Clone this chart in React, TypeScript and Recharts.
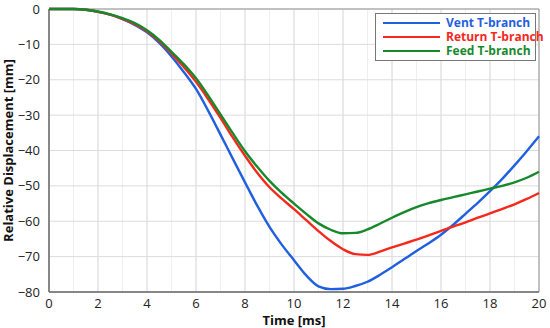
import React from "react";
import {
  CartesianGrid,
  Line,
  LineChart,
  ReferenceLine,
  XAxis,
  YAxis,
} from "recharts";

const TIME = [
  0, 0.5, 1, 1.5, 2, 2.5, 3, 3.5, 4, 4.5, 5, 5.5, 6, 6.5, 7, 7.5, 8, 8.5, 9, 9.5, 10,
  10.5, 11, 11.5, 12, 12.5, 13, 13.5, 14, 14.5, 15, 15.5, 16, 16.5, 17, 17.5, 18, 18.5, 19, 19.5, 20,
];

const VENT = [
  0, 0, 0, -0.2, -0.8, -1.6, -2.9, -4.5, -6.6, -9.6, -13.4, -17.8, -22.6, -28.8, -35.5, -42.3, -49, -55.6, -61.6, -66.6, -71,
  -75.3, -78.4, -79.2, -79.1, -78.3, -77.1, -75.2, -73, -70.7, -68.4, -66.2, -63.8, -61, -57.9, -54.8, -51.5, -48, -44.2, -40.2, -36,
];

const RETURN = [
  0, 0, 0, -0.2, -0.8, -1.6, -2.8, -4.3, -6.3, -9.1, -12.6, -16.4, -20.6, -25.5, -30.8, -36.3, -41.5, -46.3, -50.4, -53.6, -56.6,
  -59.7, -62.8, -65.6, -67.9, -69.3, -69.5, -68.6, -67.4, -66.3, -65.2, -64, -62.7, -61.5, -60.3, -59, -57.8, -56.5, -55.2, -53.7, -52,
];

const FEED = [
  0, 0, 0, -0.2, -0.7, -1.5, -2.6, -4, -6, -8.7, -12.1, -15.6, -19.6, -24.5, -29.8, -35.1, -40.2, -44.6, -48.6, -52, -55,
  -57.9, -60.6, -62.4, -63.4, -63.3, -62.3, -60.7, -59, -57.4, -56, -54.9, -54, -53.2, -52.4, -51.6, -50.8, -50, -49, -47.7, -46,
];

const SERIES = [
  { key: "vent", name: "Vent T-branch", color: "#1f5fe0" },
  { key: "ret", name: "Return T-branch", color: "#f5281c" },
  { key: "feed", name: "Feed T-branch", color: "#17892b" },
];

const X_TICKS = [0, 2, 4, 6, 8, 10, 12, 14, 16, 18, 20];
const Y_TICKS = [0, -10, -20, -30, -40, -50, -60, -70, -80];
const X_MINOR = [0, 1, 2, 3, 4, 5, 6, 7, 8, 9, 10, 11, 12, 13, 14, 15, 16, 17, 18, 19, 20];
const Y_MINOR = [0, -5, -10, -15, -20, -25, -30, -35, -40, -45, -50, -55, -60, -65, -70, -75, -80];

const data = TIME.map((t, i) => ({ t, vent: VENT[i], ret: RETURN[i], feed: FEED[i] }));

const FONT = "'Open Sans', 'Noto Sans', sans-serif";

const fmtY = (v: number) => (v < 0 ? `\u2212${-v}` : `${v}`);

function LegendBox() {
  return (
    <div
      style={{
        position: "absolute",
        left: 375,
        top: 13,
        width: 161,
        boxSizing: "border-box",
        border: "1px solid #777",
        background: "#fff",
        padding: "2px 4px 2px 7px",
        fontFamily: FONT,
        fontSize: 12,
        fontWeight: 700,
        lineHeight: "14px",
      }}
    >
      {SERIES.map((s) => (
        <div key={s.key} style={{ display: "flex", alignItems: "center", whiteSpace: "nowrap", height: 14 }}>
          <span style={{ display: "inline-block", width: 57, height: 2, background: s.color, marginRight: 6, flex: "none" }} />
          <span style={{ color: s.color }}>{s.name}</span>
        </div>
      ))}
    </div>
  );
}

export default function App() {
  return (
    <div style={{ position: "absolute", left: 0, top: 0, width: 550, height: 328, background: "#fff" }}>
      <LineChart width={550} height={328} data={data} margin={{ top: 9, right: 11, left: 0, bottom: 0 }}>
        <XAxis xAxisId="minor" dataKey="t" type="number" domain={[0, 20]} ticks={X_MINOR} hide />
        <YAxis yAxisId="minor" type="number" domain={[-80, 0]} ticks={Y_MINOR} hide />
        <CartesianGrid xAxisId="minor" yAxisId="minor" stroke="#efefef" strokeWidth={1} />
        <CartesianGrid stroke="#dcdcdc" strokeWidth={1} />
        <XAxis
          dataKey="t"
          type="number"
          domain={[0, 20]}
          ticks={X_TICKS}
          height={36}
          tickLine={false}
          axisLine={{ stroke: "#666", strokeWidth: 1.5 }}
          tick={{ fill: "#222", fontSize: 13, fontFamily: FONT }}
          tickMargin={1}
          label={{ value: "Time [ms]", position: "insideBottom", offset: 3, fill: "#111", fontSize: 13, fontWeight: 700, fontFamily: FONT }}
        />
        <YAxis
          type="number"
          domain={[-80, 0]}
          ticks={Y_TICKS}
          width={49}
          tickLine={false}
          axisLine={{ stroke: "#666", strokeWidth: 1.5 }}
          tickFormatter={fmtY}
          tick={{ fill: "#222", fontSize: 13, fontFamily: FONT }}
          tickMargin={3}
          label={{
            value: "Relative Displacement [mm]",
            angle: -90,
            position: "insideLeft",
            offset: 8,
            style: { textAnchor: "middle" },
            fill: "#111",
            fontSize: 13,
            fontWeight: 700,
            fontFamily: FONT,
          }}
        />
        <ReferenceLine y={0} stroke="#999" strokeWidth={1} />
        <ReferenceLine x={20} stroke="#999" strokeWidth={1} />
        {SERIES.map((s) => (
          <Line
            key={s.key}
            dataKey={s.key}
            name={s.name}
            type="monotone"
            stroke={s.color}
            strokeWidth={2.4}
            dot={false}
            isAnimationActive={false}
          />
        ))}
      </LineChart>
      <LegendBox />
    </div>
  );
}
